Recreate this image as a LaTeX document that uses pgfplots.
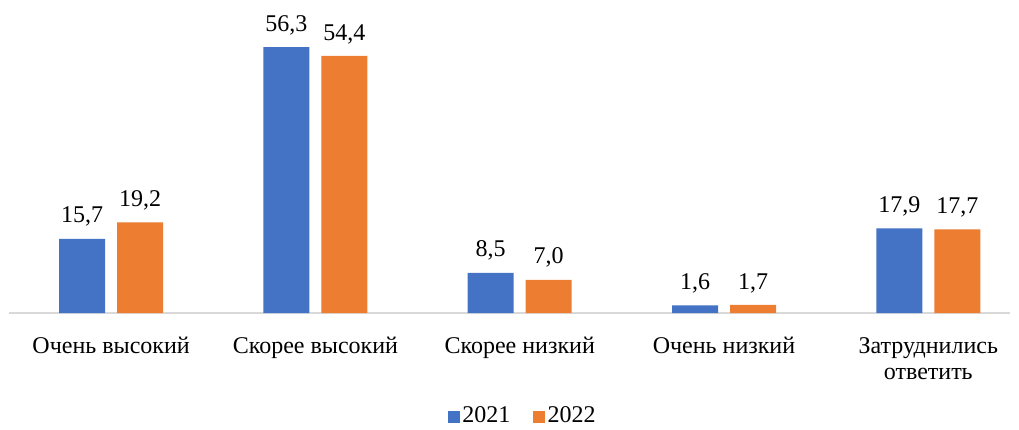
\documentclass[border=0pt]{standalone}
\usepackage{pgfplots}
\pgfplotsset{compat=1.18}
\usepackage{fontspec}
\setmainfont{Liberation Serif}
\definecolor{cblue}{HTML}{4472C4}
\definecolor{corange}{HTML}{ED7D31}
\begin{document}
\fontsize{18}{19.5}\selectfont
\begin{tikzpicture}
\useasboundingbox (0,0) rectangle (764.25pt,321.75pt);
\begin{axis}[
  at={(6.75pt,87pt)}, anchor=south west,
  width=750.75pt, height=212.6pt, scale only axis,
  xmin=-0.5, xmax=4.4, ymin=0, ymax=60,
  ybar=9pt, bar width=34.5pt,
  axis x line=bottom, axis line style={draw=black!15, line width=1pt, -},
  hide y axis,
  xtick={0,1,2,3,4}, xtick style={draw=none},
  xticklabels={Очень высокий, Скорее высокий, Скорее низкий, Очень низкий, {Затруднились\\ответить}},
  xticklabel style={align=center, font=\fontsize{18}{19.5}\selectfont, yshift=-10pt},
  nodes near coords,
  nodes near coords style={font=\fontsize{18}{19.5}\selectfont, text=black, yshift=3pt},
  /pgf/number format/.cd, fixed, fixed zerofill, precision=1, use comma, assume math mode=true,
  /pgfplots/.cd,
  legend style={draw=none, at={(0.5135,-0.366)}, anchor=center, legend columns=2, inner sep=1pt,
    font=\fontsize{18}{19.5}\selectfont, /tikz/every even column/.append style={column sep=15pt}},
  legend image code/.code={\fill (0pt,-4.5pt) rectangle (9pt,4.5pt);},
]
\addplot[fill=cblue, draw=none] coordinates {(0,15.7) (1,56.3) (2,8.5) (3,1.6) (4,17.9)};
\addplot[fill=corange, draw=none] coordinates {(0,19.2) (1,54.4) (2,7.0) (3,1.7) (4,17.7)};
\legend{2021,2022}
\end{axis}
\end{tikzpicture}
\end{document}
